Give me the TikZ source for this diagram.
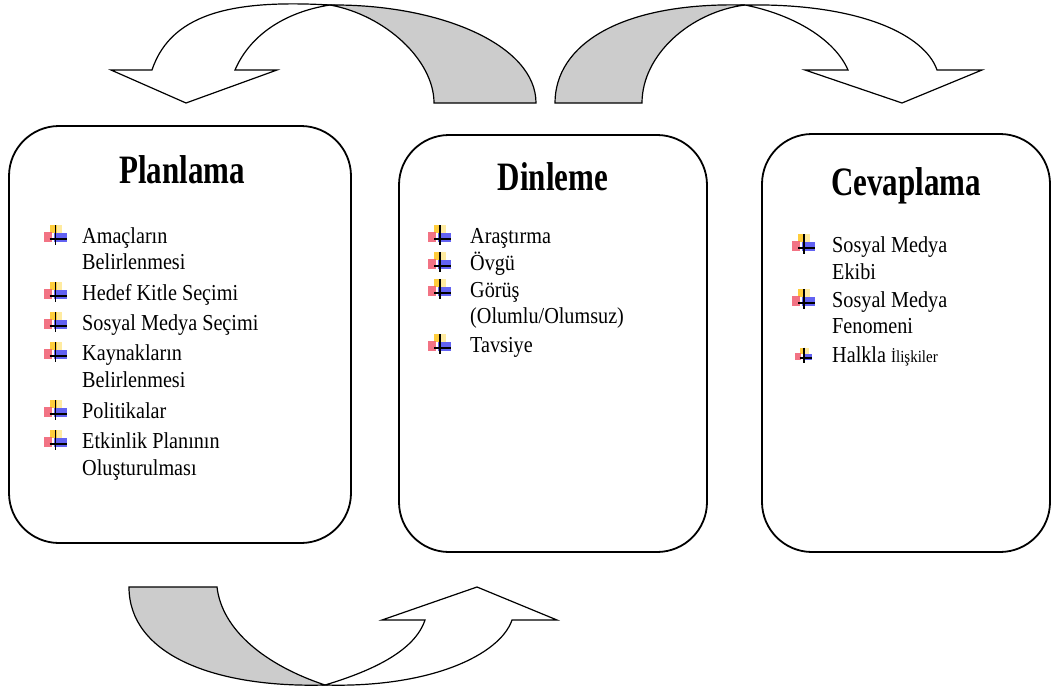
\documentclass[tikz,border=0pt]{standalone}
\usepackage{fontspec}
\setmainfont{Liberation Serif}
\definecolor{bylw}{RGB}{255,205,60}
\definecolor{bylwl}{RGB}{255,235,160}
\definecolor{bpnk}{RGB}{240,90,110}
\definecolor{bblu}{RGB}{70,70,240}
\definecolor{bandgray}{RGB}{204,204,204}
\newcommand\sy[1]{\scalebox{1}[1.13]{#1}}
\newcommand\st[1]{\scalebox{1}[1.3]{#1}}
\begin{document}
\begin{tikzpicture}[x=1pt,y=-1pt,
  box/.style={draw, line width=1.8pt, rounded corners=50pt, inner sep=0pt, outer sep=0pt},
  ttl/.style={font=\fontsize{31}{36}\selectfont\bfseries, anchor=base, inner sep=0pt},
  itm/.style={font=\fontsize{20.2}{24}\selectfont, anchor=base west, inner sep=0pt},
  frontband/.style={draw, line width=1.2pt, fill=white, line join=miter},
  backband/.style={draw, line width=1.2pt, fill=bandgray, line join=miter},
  bul/.pic={
    \fill[bylw] (-6,-14) rectangle (1,-6);
    \fill[bylwl] (1,-14) rectangle (6,-6);
    \fill[bpnk, opacity=.85] (-12,-7) rectangle (-4,3);
    \fill[bblu, opacity=.85] (-2,-6) rectangle (11,3);
    \draw[line width=1.3pt] (0,-14) -- (0,6) (-6,0) -- (11,0);
  }]
\useasboundingbox (0,0) rectangle (1054,693);

% ---- boxes
\node[box, minimum width=342pt, minimum height=417pt] (plan) at (180,334.5) {};
\node[box, minimum width=308pt, minimum height=417pt] (dinl) at (553,343.5) {};
\node[box, minimum width=288pt, minimum height=418pt] (cevp) at (906,343) {};

% ---- titles
\node[ttl] (tplan) at (182,183) {\st{Planlama}};
\node[ttl] (tdinl) at (553,190) {\st{Dinleme}};
\node[ttl] (tcevp) at (906,195) {\st{Cevaplama}};

% ---- Planlama items
\pic at (55.5,239) {bul};
\node[itm] (p1) at (82,243) {\sy{Amaçların}};
\node[itm] (p1b) at (82,269) {\sy{Belirlenmesi}};
\pic at (55.5,296) {bul};
\node[itm] (p2) at (82,300) {\sy{Hedef Kitle Seçimi}};
\pic at (55.5,326) {bul};
\node[itm] (p3) at (82,330) {\sy{Sosyal Medya Seçimi}};
\pic at (55.5,356) {bul};
\node[itm] (p4) at (82,360) {\sy{Kaynakların}};
\node[itm] (p4b) at (82,387) {\sy{Belirlenmesi}};
\pic at (55.5,414) {bul};
\node[itm] (p5) at (82,418) {\sy{Politikalar}};
\pic at (55.5,444) {bul};
\node[itm] (p6) at (82,448) {\sy{Etkinlik Planının}};
\node[itm] (p6b) at (82,475) {\sy{Oluşturulması}};

% ---- Dinleme items
\pic at (440,239) {bul};
\node[itm] (d1) at (470,243) {\sy{Araştırma}};
\pic at (440,266) {bul};
\node[itm] (d2) at (470,270) {\sy{Övgü}};
\pic at (440,293) {bul};
\node[itm] (d3) at (470,297) {\sy{Görüş}};
\node[itm] (d3b) at (470,323) {\sy{(Olumlu/Olumsuz)}};
\pic at (440,348) {bul};
\node[itm] (d4) at (470,352) {\sy{Tavsiye}};

% ---- Cevaplama items
\pic at (804,248) {bul};
\node[itm] (c1) at (832,252) {\sy{Sosyal Medya}};
\node[itm] (c1b) at (832,279) {\sy{Ekibi}};
\pic at (804,303) {bul};
\node[itm] (c2) at (832,307) {\sy{Sosyal Medya}};
\node[itm] (c2b) at (832,333) {\sy{Fenomeni}};
\pic[scale=.75] at (804,358) {bul};
\node[itm] (c3) at (832,362) {\sy{Halkla {\fontsize{15}{18}\selectfont İlişkiler}}};

% ---- top-left curved arrow
\draw[backband] (536,103) .. controls (536,45) and (440,4) .. (330,5)
   .. controls (385,15) and (434,60) .. (434,103) -- cycle;
\draw[frontband] (330,5) .. controls (240,0) and (172,10) .. (152,70)
   -- (111,70) -- (186,103) -- (277,70) -- (235,70)
   .. controls (250,35) and (285,12) .. (330,5) -- cycle;

% ---- top-right curved arrow
\draw[backband] (555,103) .. controls (555,45) and (620,2) .. (745,5)
   .. controls (690,12) and (642,55) .. (642,103) -- cycle;
\draw[frontband] (745,5) .. controls (860,3) and (925,35) .. (937,70)
   -- (982,70) -- (902,103) -- (805,70) -- (848,70)
   .. controls (835,40) and (795,15) .. (745,5) -- cycle;

% ---- bottom curved arrow
\draw[backband] (129,587) .. controls (129,655) and (215,688) .. (325,685)
   .. controls (265,665) and (222,630) .. (217,587) -- cycle;
\draw[frontband] (325,685) .. controls (430,688) and (500,655) .. (512,620)
   -- (557,620) -- (477,587) -- (382,620) -- (425,620)
   .. controls (415,650) and (375,670) .. (325,685) -- cycle;
\end{tikzpicture}
\end{document}
